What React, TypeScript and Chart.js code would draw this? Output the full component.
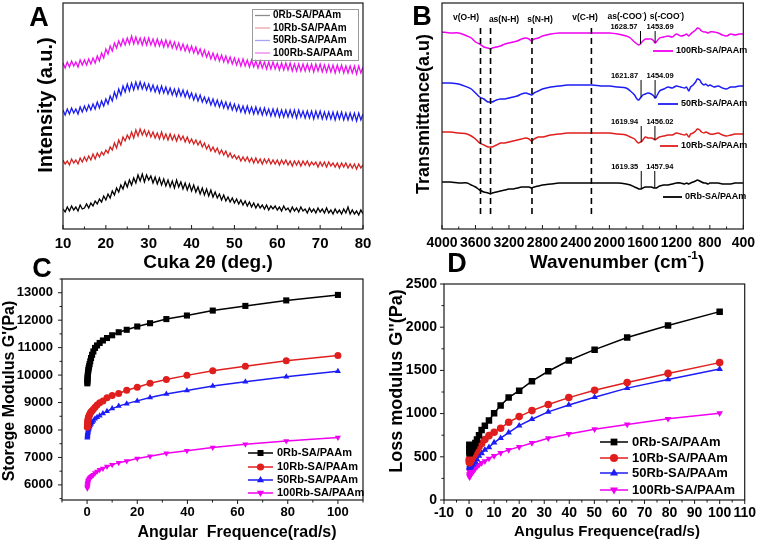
import React, { useEffect, useRef } from 'react';
import { Chart, registerables } from 'chart.js';

Chart.register(...registerables);

const CANVAS_W = 761;
const CANVAS_H = 544;
const FAMILY = 'Arial, "Liberation Sans", Helvetica, sans-serif';

// ---------- shared ----------
const SAMPLE_NAMES = ['0Rb-SA/PAAm', '10Rb-SA/PAAm', '50Rb-SA/PAAm', '100Rb-SA/PAAm'];
const SAMPLE_COLORS = ['#000000', '#e01e1e', '#1c1cf5', '#f000f0'];
const XRD_COLORS = ['#000000', '#d42222', '#1c1cf0', '#ee10ee'];
const XRD_LEGEND_COLORS = ['#8c8c8c', '#eba4a4', '#a4a4f2', '#f07cf0'];
const MARKERS = ['rect', 'circle', 'triangle', 'triangleDown'];

// ---------- A : XRD ----------
const XRD_START = 10;
const XRD_STEP = 0.5;
const XRD_X_TICKS = [10, 20, 30, 40, 50, 60, 70, 80];
const XRD_0RB = [
  20, 17, 22, 18, 23, 19, 22, 18, 24, 20,
  21, 25, 21, 26, 23, 28, 25, 30, 27, 33,
  29, 35, 31, 38, 34, 41, 37, 44, 40, 47,
  42, 49, 44, 51, 46, 54, 48, 55, 47, 54,
  49, 53, 46, 52, 45, 51, 44, 50, 43, 49,
  42, 48, 41, 49, 42, 47, 40, 46, 39, 45,
  38, 44, 37, 42, 35, 41, 34, 40, 33, 39,
  32, 37, 31, 35, 29, 34, 28, 32, 27, 31,
  26, 30, 25, 29, 24, 28, 23, 27, 22, 26,
  21, 25, 21, 24, 20, 24, 19, 23, 20, 23,
  19, 22, 18, 23, 19, 21, 17, 22, 18, 21,
  17, 22, 18, 20, 16, 21, 17, 20, 16, 21,
  17, 20, 16, 21, 16, 19, 15, 20, 16, 19,
  15, 20, 16, 22, 15, 19, 15, 18, 14, 19,
  15,
];
const XRD_10RB = [
  69, 65, 68, 64, 70, 66, 69, 65, 71, 67,
  72, 68, 73, 69, 75, 70, 76, 72, 77, 74,
  79, 76, 82, 79, 86, 81, 89, 84, 92, 88,
  94, 90, 97, 91, 99, 93, 100, 94, 99, 93,
  98, 92, 97, 91, 96, 90, 97, 90, 95, 89,
  95, 89, 94, 88, 94, 89, 93, 87, 92, 86,
  90, 85, 89, 84, 88, 82, 86, 80, 84, 78,
  82, 77, 81, 75, 79, 74, 78, 72, 76, 71,
  74, 70, 73, 68, 72, 68, 72, 67, 71, 66,
  71, 66, 70, 65, 70, 66, 70, 65, 69, 65,
  69, 64, 69, 65, 69, 64, 68, 63, 68, 64,
  68, 63, 68, 64, 68, 63, 67, 64, 67, 62,
  67, 63, 67, 62, 67, 63, 66, 62, 66, 61,
  66, 62, 66, 61, 65, 61, 65, 60, 65, 61,
  64,
];
const XRD_50RB = [
  119, 114, 120, 115, 121, 116, 120, 115, 122, 117,
  123, 118, 124, 119, 125, 120, 127, 121, 128, 123,
  130, 125, 133, 128, 137, 131, 140, 134, 143, 137,
  145, 138, 146, 139, 147, 140, 147, 140, 146, 139,
  145, 138, 144, 137, 143, 136, 143, 136, 142, 135,
  141, 134, 140, 133, 140, 133, 139, 132, 138, 131,
  136, 129, 135, 128, 134, 127, 132, 126, 131, 124,
  130, 123, 129, 122, 128, 121, 127, 120, 126, 119,
  125, 118, 124, 117, 123, 116, 123, 116, 122, 115,
  122, 115, 121, 114, 121, 114, 120, 113, 120, 113,
  120, 112, 119, 112, 119, 112, 119, 112, 119, 111,
  119, 112, 118, 111, 118, 111, 118, 110, 118, 111,
  118, 110, 117, 110, 117, 110, 117, 109, 117, 110,
  117, 109, 116, 109, 116, 109, 116, 108, 116, 109,
  115,
];
const XRD_100RB = [
  166, 161, 167, 162, 168, 163, 167, 162, 169, 164,
  169, 164, 170, 165, 171, 166, 173, 168, 176, 171,
  180, 175, 183, 178, 186, 181, 188, 183, 190, 184,
  191, 185, 193, 185, 192, 185, 191, 184, 191, 184,
  191, 184, 190, 183, 190, 183, 189, 182, 189, 182,
  188, 181, 187, 180, 186, 179, 185, 178, 184, 177,
  183, 176, 182, 175, 180, 173, 179, 172, 177, 170,
  176, 169, 175, 168, 174, 167, 173, 166, 172, 165,
  171, 164, 170, 163, 170, 163, 169, 162, 169, 162,
  168, 161, 168, 161, 167, 160, 167, 160, 167, 160,
  166, 159, 166, 159, 166, 159, 166, 158, 165, 158,
  165, 158, 165, 158, 165, 158, 165, 157, 165, 158,
  165, 157, 164, 157, 164, 157, 164, 156, 164, 157,
  164, 156, 163, 156, 163, 156, 163, 155, 163, 156,
  162,
];

// ---------- B : FTIR ----------
const FTIR_WAVENUMBERS = [
  4000, 3900, 3800, 3700, 3650, 3600, 3550, 3500, 3450, 3420,
  3400, 3350, 3300, 3250, 3200, 3150, 3100, 3050, 3000, 2960,
  2930, 2900, 2850, 2800, 2700, 2600, 2500, 2400, 2300, 2200,
  2100, 2000, 1900, 1800, 1750, 1700, 1670, 1650, 1630, 1620,
  1600, 1570, 1540, 1500, 1470, 1455, 1440, 1400, 1350, 1300,
  1250, 1200, 1150, 1100, 1080, 1050, 1030, 1000, 970, 950,
  920, 900, 870, 850, 820, 800, 750, 700, 650, 600,
  550, 500, 450, 400,
];
const FTIR_0RB = [
  47, 47, 46, 46, 44, 42, 39, 37, 36, 35,
  36, 37, 38, 39, 40, 40, 41, 42, 42, 42,
  41, 42, 43, 44, 45, 46, 46, 46, 46, 46,
  46, 46, 46, 45, 44, 42, 41, 40, 40, 40,
  41, 42, 42, 42, 41, 41, 41, 43, 44, 44,
  45, 46, 46, 45, 46, 45, 46, 47, 48, 49,
  48, 47, 46, 46, 45, 46, 46, 46, 45, 45,
  45, 46, 46, 46,
];
const FTIR_10RB = [
  97, 97, 96, 95, 93, 90, 86, 84, 82, 82,
  82, 84, 86, 86, 87, 88, 89, 90, 91, 90,
  88, 90, 92, 92, 94, 95, 96, 96, 96, 96,
  96, 96, 95, 94, 92, 90, 87, 86, 87, 87,
  89, 92, 91, 91, 90, 89, 90, 92, 93, 94,
  94, 96, 95, 94, 95, 92, 95, 96, 98, 100,
  99, 97, 96, 97, 96, 95, 95, 96, 94, 93,
  94, 95, 95, 95,
];
const FTIR_50RB = [
  146, 146, 145, 142, 140, 136, 132, 130, 127, 127,
  127, 129, 130, 130, 131, 132, 133, 135, 136, 135,
  134, 136, 138, 140, 142, 143, 144, 144, 144, 144,
  143, 143, 142, 141, 138, 134, 130, 129, 131, 132,
  134, 135, 136, 135, 133, 131, 132, 138, 140, 142,
  141, 143, 142, 141, 142, 138, 142, 144, 147, 150,
  149, 146, 144, 145, 143, 144, 142, 143, 141, 140,
  142, 142, 143, 143,
];
const FTIR_100RB = [
  197, 196, 196, 193, 191, 187, 185, 182, 181, 180,
  181, 182, 183, 185, 186, 187, 188, 190, 191, 190,
  188, 190, 191, 193, 195, 196, 196, 196, 196, 196,
  196, 196, 195, 193, 191, 187, 185, 184, 185, 186,
  188, 190, 190, 190, 188, 186, 187, 191, 192, 193,
  192, 195, 193, 194, 195, 193, 195, 197, 199, 201,
  200, 198, 197, 197, 196, 197, 197, 196, 194, 193,
  195, 194, 195, 195,
];
const FTIR_X_TICKS = [4000, 3600, 3200, 2800, 2400, 2000, 1600, 1200, 800, 400];
const FTIR_BANDS = [3540, 3420, 2925, 2215];
const FTIR_BAND_LABELS = ['v(O-H)', 'as(N-H)', 's(N-H)', 'v(C-H)'];
const FTIR_PEAKS_0RB = [1619.35, 1457.94];
const FTIR_PEAKS_10RB = [1619.94, 1456.02];
const FTIR_PEAKS_50RB = [1621.87, 1454.09];
const FTIR_PEAKS_100RB = [1628.57, 1453.69];

// ---------- C & D : rheology ----------
const FREQ = [0.1, 0.126, 0.158, 0.2, 0.251, 0.316, 0.398, 0.501, 0.631, 0.794, 1, 1.26, 1.58, 2, 2.51, 3.16, 3.98, 5.01, 6.31, 7.94, 10, 12.6, 15.8, 20, 25.1, 31.6, 39.8, 50.1, 63.1, 79.4, 100];
const GP_0RB = [9700, 9760, 9830, 9900, 9970, 10040, 10110, 10180, 10250, 10320, 10400, 10500, 10620, 10740, 10860, 10990, 11080, 11170, 11260, 11350, 11450, 11560, 11650, 11770, 11890, 12040, 12170, 12350, 12520, 12720, 12920];
const GP_10RB = [8100, 8150, 8200, 8250, 8300, 8350, 8400, 8440, 8480, 8520, 8560, 8610, 8660, 8700, 8760, 8830, 8910, 8990, 9060, 9170, 9260, 9330, 9450, 9560, 9700, 9840, 9990, 10160, 10320, 10520, 10710];
const GP_50RB = [7720, 7760, 7800, 7840, 7880, 7920, 7960, 8000, 8040, 8080, 8130, 8180, 8230, 8280, 8340, 8410, 8460, 8520, 8600, 8680, 8780, 8870, 8960, 9060, 9180, 9310, 9440, 9600, 9760, 9940, 10140];
const GP_100RB = [5880, 5920, 5960, 6000, 6040, 6080, 6120, 6150, 6180, 6210, 6240, 6270, 6300, 6330, 6370, 6430, 6490, 6550, 6600, 6670, 6730, 6810, 6870, 6960, 7040, 7150, 7240, 7360, 7480, 7600, 7730];
const GPP_0RB = [640, 560, 600, 540, 580, 550, 560, 570, 560, 575, 590, 600, 620, 630, 660, 700, 750, 810, 860, 920, 1005, 1095, 1185, 1265, 1375, 1490, 1615, 1740, 1880, 2020, 2180];
const GPP_10RB = [470, 440, 460, 430, 450, 440, 450, 460, 455, 470, 480, 490, 505, 520, 545, 575, 615, 655, 700, 745, 785, 830, 900, 965, 1035, 1105, 1185, 1270, 1360, 1465, 1590];
const GPP_50RB = [450, 380, 400, 370, 390, 375, 385, 390, 385, 395, 400, 410, 415, 430, 445, 470, 510, 540, 580, 610, 665, 715, 780, 860, 935, 1020, 1100, 1190, 1295, 1395, 1515];
const GPP_100RB = [330, 300, 280, 265, 290, 275, 285, 295, 300, 305, 310, 320, 330, 345, 365, 385, 405, 430, 450, 480, 510, 545, 580, 615, 660, 715, 765, 820, 875, 940, 1005];
const C_X_TICKS = [0, 20, 40, 60, 80, 100];
const C_Y_TICKS = [6000, 7000, 8000, 9000, 10000, 11000, 12000, 13000];
const D_X_TICKS = [-10, 0, 10, 20, 30, 40, 50, 60, 70, 80, 90, 100, 110];
const D_Y_TICKS = [0, 500, 1000, 1500, 2000, 2500];

// ---------- layout (pixel boxes of the four plot areas; panel left edges) ----------
const AREA_A = { left: 63, right: 363, top: 3, bottom: 229, panelLeft: 0 };
const AREA_B = { left: 442, right: 747, top: 3, bottom: 229, panelLeft: 380 };
const AREA_C = { left: 62, right: 363, top: 279, bottom: 500, panelLeft: 0 };
const AREA_D = { left: 444, right: 748, top: 284, bottom: 500, panelLeft: 380 };
const X_AXIS_BOX = 30;

// ---------- helpers ----------
const font = (size: number, bold = true) => `${bold ? 'bold ' : ''}${size}px ${FAMILY}`;

function txt(ctx: CanvasRenderingContext2D, s: string, x: number, y: number, size: number, opt: { align?: CanvasTextAlign; rot?: boolean; color?: string; bold?: boolean } = {}) {
  ctx.save();
  ctx.font = font(size, opt.bold ?? true);
  ctx.fillStyle = opt.color ?? '#000';
  ctx.textAlign = opt.align ?? 'center';
  ctx.textBaseline = 'middle';
  ctx.translate(x, y);
  if (opt.rot) ctx.rotate(-Math.PI / 2);
  ctx.fillText(s, 0, 0);
  ctx.restore();
}

function rich(ctx: CanvasRenderingContext2D, parts: [string, boolean][], x: number, y: number, size: number, align: 'left' | 'center' | 'right' = 'center') {
  ctx.save();
  ctx.textBaseline = 'middle';
  ctx.textAlign = 'left';
  ctx.fillStyle = '#000';
  const sup = size * 0.62;
  const widths = parts.map(([s, isSup]) => { ctx.font = font(isSup ? sup : size); return ctx.measureText(s).width; });
  const total = widths.reduce((a, b) => a + b, 0);
  let cx = align === 'center' ? x - total / 2 : align === 'right' ? x - total : x;
  parts.forEach(([s, isSup], i) => {
    ctx.font = font(isSup ? sup : size);
    ctx.fillText(s, cx, isSup ? y - size * 0.4 : y);
    cx += widths[i];
  });
  ctx.restore();
}

function marker(ctx: CanvasRenderingContext2D, kind: string, x: number, y: number, r: number, color: string) {
  ctx.fillStyle = color;
  ctx.beginPath();
  if (kind === 'rect') { const s = r * 0.75; ctx.rect(x - s, y - s, 2 * s, 2 * s); }
  else if (kind === 'circle') ctx.arc(x, y, r * 0.9, 0, Math.PI * 2);
  else if (kind === 'triangle') { ctx.moveTo(x, y - r); ctx.lineTo(x + r * 0.9, y + r * 0.55); ctx.lineTo(x - r * 0.9, y + r * 0.55); ctx.closePath(); }
  else { ctx.moveTo(x, y + r); ctx.lineTo(x + r * 0.9, y - r * 0.55); ctx.lineTo(x - r * 0.9, y - r * 0.55); ctx.closePath(); }
  ctx.fill();
}

function minorValues(min: number, max: number, step: number, majors: number[]) {
  const out: number[] = [];
  for (let v = Math.ceil(min / step) * step; v <= max + 1e-9; v += step) {
    if (!majors.some((m) => Math.abs(m - v) < 1e-6)) out.push(v);
  }
  return out;
}

function frameAndTicks(ctx: CanvasRenderingContext2D, chart: any, o: { inward: boolean; xMinor: number; yMinor?: number; yTicks?: number[] }) {
  const a = chart.chartArea;
  const sx = chart.scales.x;
  const sy = chart.scales.y;
  ctx.strokeStyle = '#1a1a1a';
  ctx.lineWidth = 1.2;
  ctx.strokeRect(a.left, a.top, a.right - a.left, a.bottom - a.top);
  const d = o.inward ? -1 : 1;
  const majX = sx.ticks.map((t: any) => t.value);
  const lo = Math.min(sx.min, sx.max), hi = Math.max(sx.min, sx.max);
  ctx.lineWidth = 1;
  ctx.beginPath();
  majX.forEach((v: number) => { const p = sx.getPixelForValue(v); ctx.moveTo(p, a.bottom); ctx.lineTo(p, a.bottom + d * 4); });
  minorValues(lo, hi, o.xMinor, majX).forEach((v) => { const p = sx.getPixelForValue(v); ctx.moveTo(p, a.bottom); ctx.lineTo(p, a.bottom + d * 2.5); });
  if (o.yTicks && o.yMinor) {
    o.yTicks.forEach((v) => { const p = sy.getPixelForValue(v); ctx.moveTo(a.left, p); ctx.lineTo(a.left - d * 4, p); });
    minorValues(sy.min, sy.max, o.yMinor, o.yTicks).forEach((v) => { const p = sy.getPixelForValue(v); ctx.moveTo(a.left, p); ctx.lineTo(a.left - d * 2.5, p); });
  }
  ctx.stroke();
}

type AxisSpec = { min: number; max: number; ticks: number[]; size: number; pad: number; show: boolean; reverse?: boolean };

function axisOptions(spec: AxisSpec, boxSize: number, horizontal: boolean) {
  return {
    type: 'linear',
    min: spec.min,
    max: spec.max,
    reverse: !!spec.reverse,
    grid: { display: false, drawTicks: false },
    border: { display: false },
    ticks: {
      display: spec.show,
      color: '#000',
      font: { family: FAMILY, size: spec.size, weight: 'bold' },
      padding: spec.pad,
      maxRotation: 0,
      minRotation: 0,
      autoSkip: false,
      callback: (v: any) => String(v),
    },
    afterBuildTicks: (s: any) => { s.ticks = spec.ticks.map((v) => ({ value: v })); },
    afterFit: (s: any) => { if (horizontal) s.height = boxSize; else s.width = boxSize; },
  };
}

function makeConfig(area: any, xs: AxisSpec, ys: AxisSpec, datasets: any[], draw: (ctx: CanvasRenderingContext2D, chart: any) => void) {
  const yBox = area.left - area.panelLeft;
  return {
    type: 'line',
    data: { datasets },
    options: {
      responsive: false,
      animation: false,
      events: [],
      layout: { padding: { left: area.panelLeft, right: CANVAS_W - area.right, top: area.top, bottom: CANVAS_H - area.bottom - X_AXIS_BOX } },
      plugins: { legend: { display: false }, tooltip: { enabled: false } },
      scales: { x: axisOptions(xs, X_AXIS_BOX, true), y: axisOptions(ys, yBox, false) },
    },
    plugins: [{ id: 'decor', afterDraw: (chart: any) => { const ctx = chart.ctx; ctx.save(); draw(ctx, chart); ctx.restore(); } }],
  };
}

// ---------- panel configs ----------
function configA() {
  const series = [XRD_0RB, XRD_10RB, XRD_50RB, XRD_100RB];
  const ds = series.map((s, i) => ({
    label: SAMPLE_NAMES[i],
    data: s.map((v, k) => ({ x: XRD_START + k * XRD_STEP, y: v })),
    borderColor: XRD_COLORS[i],
    borderWidth: 1.3,
    pointRadius: 0,
    tension: 0,
  }));
  return makeConfig(AREA_A,
    { min: 10, max: 80, ticks: XRD_X_TICKS, size: 15, pad: 6, show: true },
    { min: 0, max: 226, ticks: [], size: 12, pad: 4, show: false },
    ds,
    (ctx, chart) => {
      frameAndTicks(ctx, chart, { inward: true, xMinor: 5 });
      txt(ctx, 'A', 39, 19, 27);
      txt(ctx, 'Intensity (a.u.)', 46, 105, 20, { rot: true });
      txt(ctx, 'Cuka 2θ (deg.)', 208, 263, 19);
      ctx.strokeStyle = '#9a9a9a';
      ctx.lineWidth = 1;
      ctx.strokeRect(252.5, 9.5, 106, 51);
      const rows = [15.5, 28, 40.5, 53];
      rows.forEach((y, i) => {
        ctx.strokeStyle = XRD_LEGEND_COLORS[i];
        ctx.lineWidth = 1.3;
        ctx.beginPath(); ctx.moveTo(255, y); ctx.lineTo(270, y); ctx.stroke();
        txt(ctx, SAMPLE_NAMES[i], 273, y, 10, { align: 'left' });
      });
    });
}

function interp(xs: number[], ys: number[], x: number) {
  for (let i = 0; i < xs.length - 1; i++) {
    const a = xs[i], b = xs[i + 1];
    if ((x <= a && x >= b) || (x >= a && x <= b)) return ys[i] + (ys[i + 1] - ys[i]) * (x - a) / (b - a);
  }
  return ys[ys.length - 1];
}

function configB() {
  const series = [FTIR_0RB, FTIR_10RB, FTIR_50RB, FTIR_100RB];
  const ds = series.map((s, i) => ({
    label: SAMPLE_NAMES[i],
    data: s.map((v, k) => ({ x: FTIR_WAVENUMBERS[k], y: v })),
    borderColor: SAMPLE_COLORS[i],
    borderWidth: 1.5,
    pointRadius: 0,
    tension: 0.3,
  }));
  const peaks = [FTIR_PEAKS_0RB, FTIR_PEAKS_10RB, FTIR_PEAKS_50RB, FTIR_PEAKS_100RB];
  const peakRowY = [167, 122, 76, 27];
  const legendRows = [
    { y: 197, x0: 663, x1: 682 },
    { y: 146, x0: 660, x1: 678 },
    { y: 104, x0: 658, x1: 678 },
    { y: 51, x0: 653, x1: 673 },
  ];
  return makeConfig(AREA_B,
    { min: 400, max: 4000, ticks: FTIR_X_TICKS, size: 14, pad: 6, show: true, reverse: true },
    { min: 0, max: 226, ticks: [], size: 12, pad: 4, show: false },
    ds,
    (ctx, chart) => {
      const sx = chart.scales.x, sy = chart.scales.y;
      frameAndTicks(ctx, chart, { inward: true, xMinor: 200 });
      txt(ctx, 'B', 422, 18, 27);
      txt(ctx, 'Transmittance(a.u)', 424, 114, 18, { rot: true });
      rich(ctx, [['Wavenumber (cm', false], ['-1', true], [')', false]], 617, 263, 19);
      ctx.strokeStyle = '#000';
      ctx.lineWidth = 1.6;
      ctx.setLineDash([6, 4]);
      FTIR_BANDS.forEach((v) => {
        const p = sx.getPixelForValue(v);
        ctx.beginPath(); ctx.moveTo(p, 28); ctx.lineTo(p, 218); ctx.stroke();
      });
      ctx.setLineDash([]);
      const labelPos = [[466, 18], [504, 20], [540, 20], [585, 18]];
      FTIR_BAND_LABELS.forEach((s, i) => txt(ctx, s, labelPos[i][0], labelPos[i][1], 8.5));
      rich(ctx, [['as(-COO', false], ['-', true], [')', false]], 627, 17, 8.5);
      rich(ctx, [['s(-COO', false], ['-', true], [')', false]], 667, 17, 8.5);
      ctx.lineWidth = 1;
      peaks.forEach((pk, i) => {
        const rowY = peakRowY[i];
        pk.forEach((wn, j) => {
          const px = sx.getPixelForValue(wn);
          const py = sy.getPixelForValue(interp(FTIR_WAVENUMBERS, series[i], wn));
          ctx.strokeStyle = '#000';
          ctx.beginPath(); ctx.moveTo(px, rowY + 4); ctx.lineTo(px, py); ctx.stroke();
          if (j === 0) txt(ctx, wn.toFixed(2), px - 3, rowY, 7.5, { align: 'right' });
          else txt(ctx, wn.toFixed(2), px + 5, rowY, 7.5);
        });
      });
      legendRows.forEach((r, i) => {
        ctx.strokeStyle = SAMPLE_COLORS[i];
        ctx.lineWidth = 1.8;
        ctx.beginPath(); ctx.moveTo(r.x0, r.y); ctx.lineTo(r.x1, r.y); ctx.stroke();
        txt(ctx, SAMPLE_NAMES[i], r.x1 + 3, r.y, 9, { align: 'left' });
      });
    });
}

function rheoDatasets(series: number[][], r: number) {
  return series.map((s, i) => ({
    label: SAMPLE_NAMES[i],
    data: s.map((v, k) => ({ x: FREQ[k], y: v })),
    borderColor: SAMPLE_COLORS[i],
    backgroundColor: SAMPLE_COLORS[i],
    pointBackgroundColor: SAMPLE_COLORS[i],
    pointBorderColor: SAMPLE_COLORS[i],
    borderWidth: 1.5,
    pointBorderWidth: 0,
    pointStyle: MARKERS[i] === 'triangleDown' ? 'triangle' : MARKERS[i],
    rotation: MARKERS[i] === 'triangleDown' ? 180 : 0,
    pointRadius: MARKERS[i] === 'rect' ? r + 0.8 : r,
    tension: 0,
  }));
}

function configC() {
  return makeConfig(AREA_C,
    { min: -10, max: 110, ticks: C_X_TICKS, size: 13, pad: 5, show: true },
    { min: 5450, max: 13500, ticks: C_Y_TICKS, size: 13, pad: 9, show: true },
    rheoDatasets([GP_0RB, GP_10RB, GP_50RB, GP_100RB], 3.5),
    (ctx, chart) => {
      frameAndTicks(ctx, chart, { inward: false, xMinor: 10, yMinor: 500, yTicks: C_Y_TICKS });
      txt(ctx, 'C', 42, 270, 27);
      txt(ctx, "Storege Modulus G'(Pa)", 10, 391, 16, { rot: true });
      txt(ctx, 'Angular  Frequence(rad/s)', 237, 533, 16);
      const rows = [453, 467, 480, 493];
      rows.forEach((y, i) => {
        ctx.strokeStyle = SAMPLE_COLORS[i];
        ctx.lineWidth = 1.5;
        ctx.beginPath(); ctx.moveTo(248, y); ctx.lineTo(273, y); ctx.stroke();
        marker(ctx, MARKERS[i], 260.5, y, 4, SAMPLE_COLORS[i]);
        txt(ctx, SAMPLE_NAMES[i], 277, y, 11, { align: 'left' });
      });
    });
}

function configD() {
  return makeConfig(AREA_D,
    { min: -10, max: 110, ticks: D_X_TICKS, size: 14, pad: 5, show: true },
    { min: 0, max: 2500, ticks: D_Y_TICKS, size: 14, pad: 7, show: true },
    rheoDatasets([GPP_0RB, GPP_10RB, GPP_50RB, GPP_100RB], 3.8),
    (ctx, chart) => {
      frameAndTicks(ctx, chart, { inward: false, xMinor: 5, yMinor: 250, yTicks: D_Y_TICKS });
      txt(ctx, 'D', 457, 265, 27);
      txt(ctx, "Loss modulus G''(Pa)", 397, 381, 18, { rot: true });
      txt(ctx, 'Angulus Frequence(rad/s)', 607, 532, 15);
      const rows = [442, 458, 473, 490];
      rows.forEach((y, i) => {
        ctx.strokeStyle = SAMPLE_COLORS[i];
        ctx.lineWidth = 1.5;
        ctx.beginPath(); ctx.moveTo(600, y); ctx.lineTo(628, y); ctx.stroke();
        marker(ctx, MARKERS[i], 614, y, 4.5, SAMPLE_COLORS[i]);
        txt(ctx, SAMPLE_NAMES[i], 632, y, 13, { align: 'left' });
      });
    });
}

function ChartLayer({ make }: { make: () => any }) {
  const ref = useRef<HTMLCanvasElement>(null);
  useEffect(() => {
    const chart = new Chart(ref.current as HTMLCanvasElement, make() as any);
    return () => chart.destroy();
  }, []);
  return (
    <canvas
      ref={ref}
      width={CANVAS_W}
      height={CANVAS_H}
      style={{ position: 'absolute', left: 0, top: 0, width: CANVAS_W, height: CANVAS_H, pointerEvents: 'none' }}
    />
  );
}

export default function App() {
  return (
    <div style={{ position: 'absolute', left: 0, top: 0, width: CANVAS_W, height: CANVAS_H, background: '#fff', overflow: 'hidden' }}>
      <ChartLayer make={configA} />
      <ChartLayer make={configB} />
      <ChartLayer make={configC} />
      <ChartLayer make={configD} />
    </div>
  );
}
